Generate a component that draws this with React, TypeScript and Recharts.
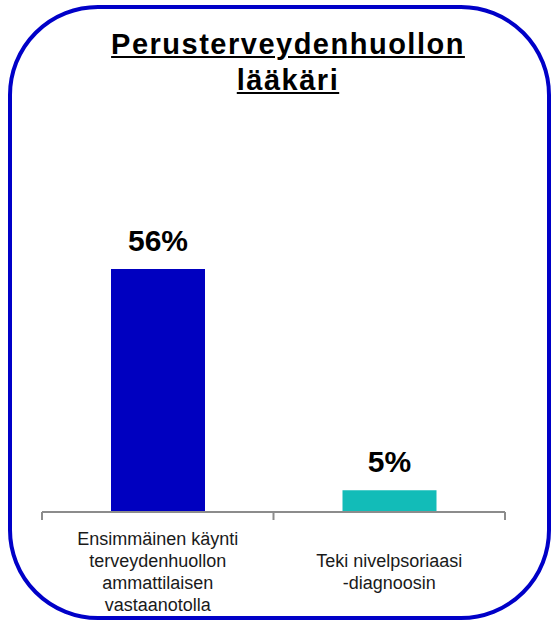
import { Bar, BarChart, Cell, LabelList, XAxis, YAxis } from "recharts";

const categories = [
  "Ensimmäinen käynti\nterveydenhuollon\nammattilaisen\nvastaanotolla",
  "Teki nivelpsoriaasi\n-diagnoosin"
];
const values = [56, 5];
const barColors = ["#0000C0", "#12BCB8"];
const titleLines = ["Perusterveydenhuollon", "lääkäri"];

const FONT = "'Liberation Sans', Arial, sans-serif";
const AXIS_GREY = "#8c8c8c";

const rows = categories.map((name, i) => ({ name, value: values[i] }));

// category label plus boundary tick marks (Excel style, between categories)
function CategoryTick(props: any) {
  const { x, y, payload, index } = props;
  const half = Number(payload?.offset) || 0;
  const lines = String(payload.value).split("\n");
  const first = y + 66 - ((lines.length - 1) * 22) / 2;
  return (
    <g>
      <line x1={x - half} x2={x - half} y1={y} y2={y + 8} stroke={AXIS_GREY} strokeWidth={2} />
      {index === categories.length - 1 && (
        <line x1={x + half} x2={x + half} y1={y} y2={y + 8} stroke={AXIS_GREY} strokeWidth={2} />
      )}
      <text textAnchor="middle" fontFamily={FONT} fontSize={18} fill="#1a1a1a">
        {lines.map((l, i) => (
          <tspan key={i} x={x} y={first + i * 22}>
            {l}
          </tspan>
        ))}
      </text>
    </g>
  );
}

function ValueLabel(props: any) {
  const { x, y, width, value } = props;
  return (
    <text
      x={Number(x) + Number(width) / 2}
      y={Number(y) - 18}
      textAnchor="middle"
      fontFamily={FONT}
      fontWeight="bold"
      fontSize={30}
      fill="#000"
    >
      {value}%
    </text>
  );
}

export default function App() {
  return (
    <div style={{ position: "absolute", left: 0, top: 0, width: 553, height: 623, background: "#fff" }}>
      <BarChart width={553} height={623} data={rows} margin={{ top: 78, right: 48, bottom: 11, left: 42 }}>
        <XAxis
          dataKey="name"
          interval={0}
          height={100}
          tickSize={0}
          tickMargin={0}
          tickLine={false}
          axisLine={{ stroke: AXIS_GREY, strokeWidth: 2 }}
          tick={<CategoryTick />}
        />
        <YAxis hide domain={[0, 100]} />
        <Bar dataKey="value" barSize={94} isAnimationActive={false}>
          {rows.map((r, i) => (
            <Cell key={r.name} fill={barColors[i]} />
          ))}
          <LabelList dataKey="value" content={<ValueLabel />} />
        </Bar>
      </BarChart>
      <div
        style={{
          position: "absolute",
          left: 20,
          top: 26,
          width: 536,
          textAlign: "center",
          fontFamily: FONT,
          fontWeight: "bold",
          fontSize: 29,
          letterSpacing: 1.5,
          lineHeight: "36px",
          textDecoration: "underline",
          color: "#000"
        }}
      >
        {titleLines.map((t) => (
          <div key={t}>{t}</div>
        ))}
      </div>
      <div
        style={{
          position: "absolute",
          left: 8,
          top: 5,
          width: 543,
          height: 615,
          boxSizing: "border-box",
          border: "4px solid #0000C8",
          borderRadius: 90,
          pointerEvents: "none"
        }}
      />
    </div>
  );
}
